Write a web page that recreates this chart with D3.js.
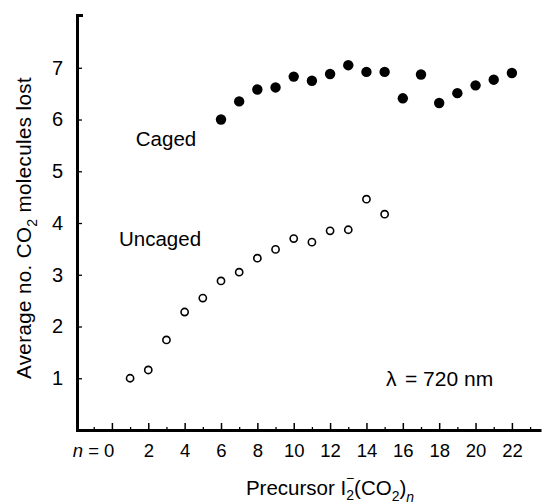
<!DOCTYPE html>
<html>
<head>
<meta charset="utf-8">
<script src="https://cdn.jsdelivr.net/npm/d3@7"></script>
<style>
  body { margin: 0; background: #fff; }
  svg { display: block; font-family: "Liberation Sans", Arial, Helvetica, sans-serif; }
</style>
</head>
<body>
<div class="chart"></div>
<script>
// cluster size n and average number of CO2 lost
const cagedN = [6, 7, 8, 9, 10, 11, 12, 13, 14, 15, 16, 17, 18, 19, 20, 21, 22];
const cagedLost = [6.0, 6.35, 6.58, 6.62, 6.83, 6.75, 6.88, 7.05, 6.92, 6.92, 6.41, 6.87, 6.32, 6.51, 6.66, 6.77, 6.90];

const uncagedN = [1, 2, 3, 4, 5, 6, 7, 8, 9, 10, 11, 12, 13, 14, 15];
const uncagedLost = [1.0, 1.16, 1.74, 2.28, 2.55, 2.88, 3.05, 3.32, 3.49, 3.70, 3.63, 3.85, 3.87, 4.46, 4.17];

const xMajor = [0, 2, 4, 6, 8, 10, 12, 14, 16, 18, 20, 22];
const xMinor = [-1, 1, 3, 5, 7, 9, 11, 13, 15, 17, 19, 21, 23];
const yTicks = [1, 2, 3, 4, 5, 6, 7];

const width = 542, height = 504;

const svg = d3.select(".chart")
    .append("svg")
    .attr("width", width)
    .attr("height", height);

const x = d3.scaleLinear().domain([-1.92, 23.6]).range([77, 541]);
const y = d3.scaleLinear().domain([0, 8.02]).range([430, 15]);

// minor x ticks
svg.append("g")
    .attr("transform", `translate(0,${y(0)})`)
    .call(d3.axisBottom(x).tickValues(xMinor).tickSizeInner(-3).tickSizeOuter(0).tickFormat(""))
    .call(g => g.select(".domain").remove())
    .call(g => g.selectAll(".tick line").attr("stroke-width", 1.3));

// major x ticks + labels
const xAxis = svg.append("g")
    .attr("transform", `translate(0,${y(0)})`)
    .call(d3.axisBottom(x).tickValues(xMajor).tickSizeInner(-7).tickSizeOuter(0).tickPadding(14))
    .call(g => g.select(".domain").attr("stroke-width", 3))
    .call(g => g.selectAll(".tick line").attr("stroke-width", 1.5))
    .call(g => g.selectAll(".tick text").attr("font-size", 18.5).attr("fill", "#000"));

xAxis.selectAll(".tick text")
    .filter(d => d === 0)
    .attr("text-anchor", "end")
    .attr("x", 2)
    .text(null)
    .call(t => {
        t.append("tspan").attr("font-style", "italic").text("n");
        t.append("tspan").text(" = 0");
    });

// y axis
svg.append("g")
    .attr("transform", `translate(${x(-1.92)},0)`)
    .call(d3.axisLeft(y).tickValues(yTicks).tickSizeInner(-5).tickSizeOuter(-6).tickPadding(14))
    .call(g => g.select(".domain").attr("stroke-width", 3))
    .call(g => g.selectAll(".tick line").attr("stroke-width", 1.3))
    .call(g => g.selectAll(".tick text").attr("font-size", 20).attr("fill", "#000"));

// caged (filled)
svg.append("g").selectAll("circle")
    .data(cagedN)
    .join("circle")
    .attr("cx", d => x(d))
    .attr("cy", (d, i) => y(cagedLost[i]))
    .attr("r", 5.2)
    .attr("fill", "#000");

// uncaged (open)
svg.append("g").selectAll("circle")
    .data(uncagedN)
    .join("circle")
    .attr("cx", d => x(d))
    .attr("cy", (d, i) => y(uncagedLost[i]))
    .attr("r", 3.6)
    .attr("fill", "#fff")
    .attr("stroke", "#000")
    .attr("stroke-width", 1.6);

// labels
svg.append("text").attr("x", 166).attr("y", 146)
    .attr("text-anchor", "middle").attr("font-size", 20.5).text("Caged");
svg.append("text").attr("x", 160).attr("y", 246)
    .attr("text-anchor", "middle").attr("font-size", 20.5).text("Uncaged");
svg.append("text").attr("x", 386).attr("y", 386)
    .attr("font-size", 21).text("λ");
svg.append("text").attr("x", 405).attr("y", 386)
    .attr("font-size", 21).text("= 720 nm");

// y title
const yt = svg.append("text")
    .attr("transform", "translate(31,228) rotate(-90)")
    .attr("text-anchor", "middle")
    .attr("font-size", 20.5)
    .attr("letter-spacing", 0.4);
yt.append("tspan").text("Average no. CO");
yt.append("tspan").attr("font-size", 14).attr("dy", 6).text("2");
yt.append("tspan").attr("dy", -6).text(" molecules lost");

// x title
const xt = svg.append("text")
    .attr("x", 330).attr("y", 495)
    .attr("text-anchor", "middle")
    .attr("font-size", 20.5);
xt.append("tspan").text("Precursor I");
xt.append("tspan").attr("font-size", 14).attr("dy", 5).text("2");
xt.append("tspan").attr("font-size", 14).attr("dx", -8).attr("dy", -17).text("−");
xt.append("tspan").attr("dy", 12).text("(CO");
xt.append("tspan").attr("font-size", 14).attr("dy", 6).text("2");
xt.append("tspan").attr("dy", -6).text(")");
xt.append("tspan").attr("font-size", 14).attr("font-style", "italic").attr("dy", 7).text("n");
</script>
</body>
</html>
